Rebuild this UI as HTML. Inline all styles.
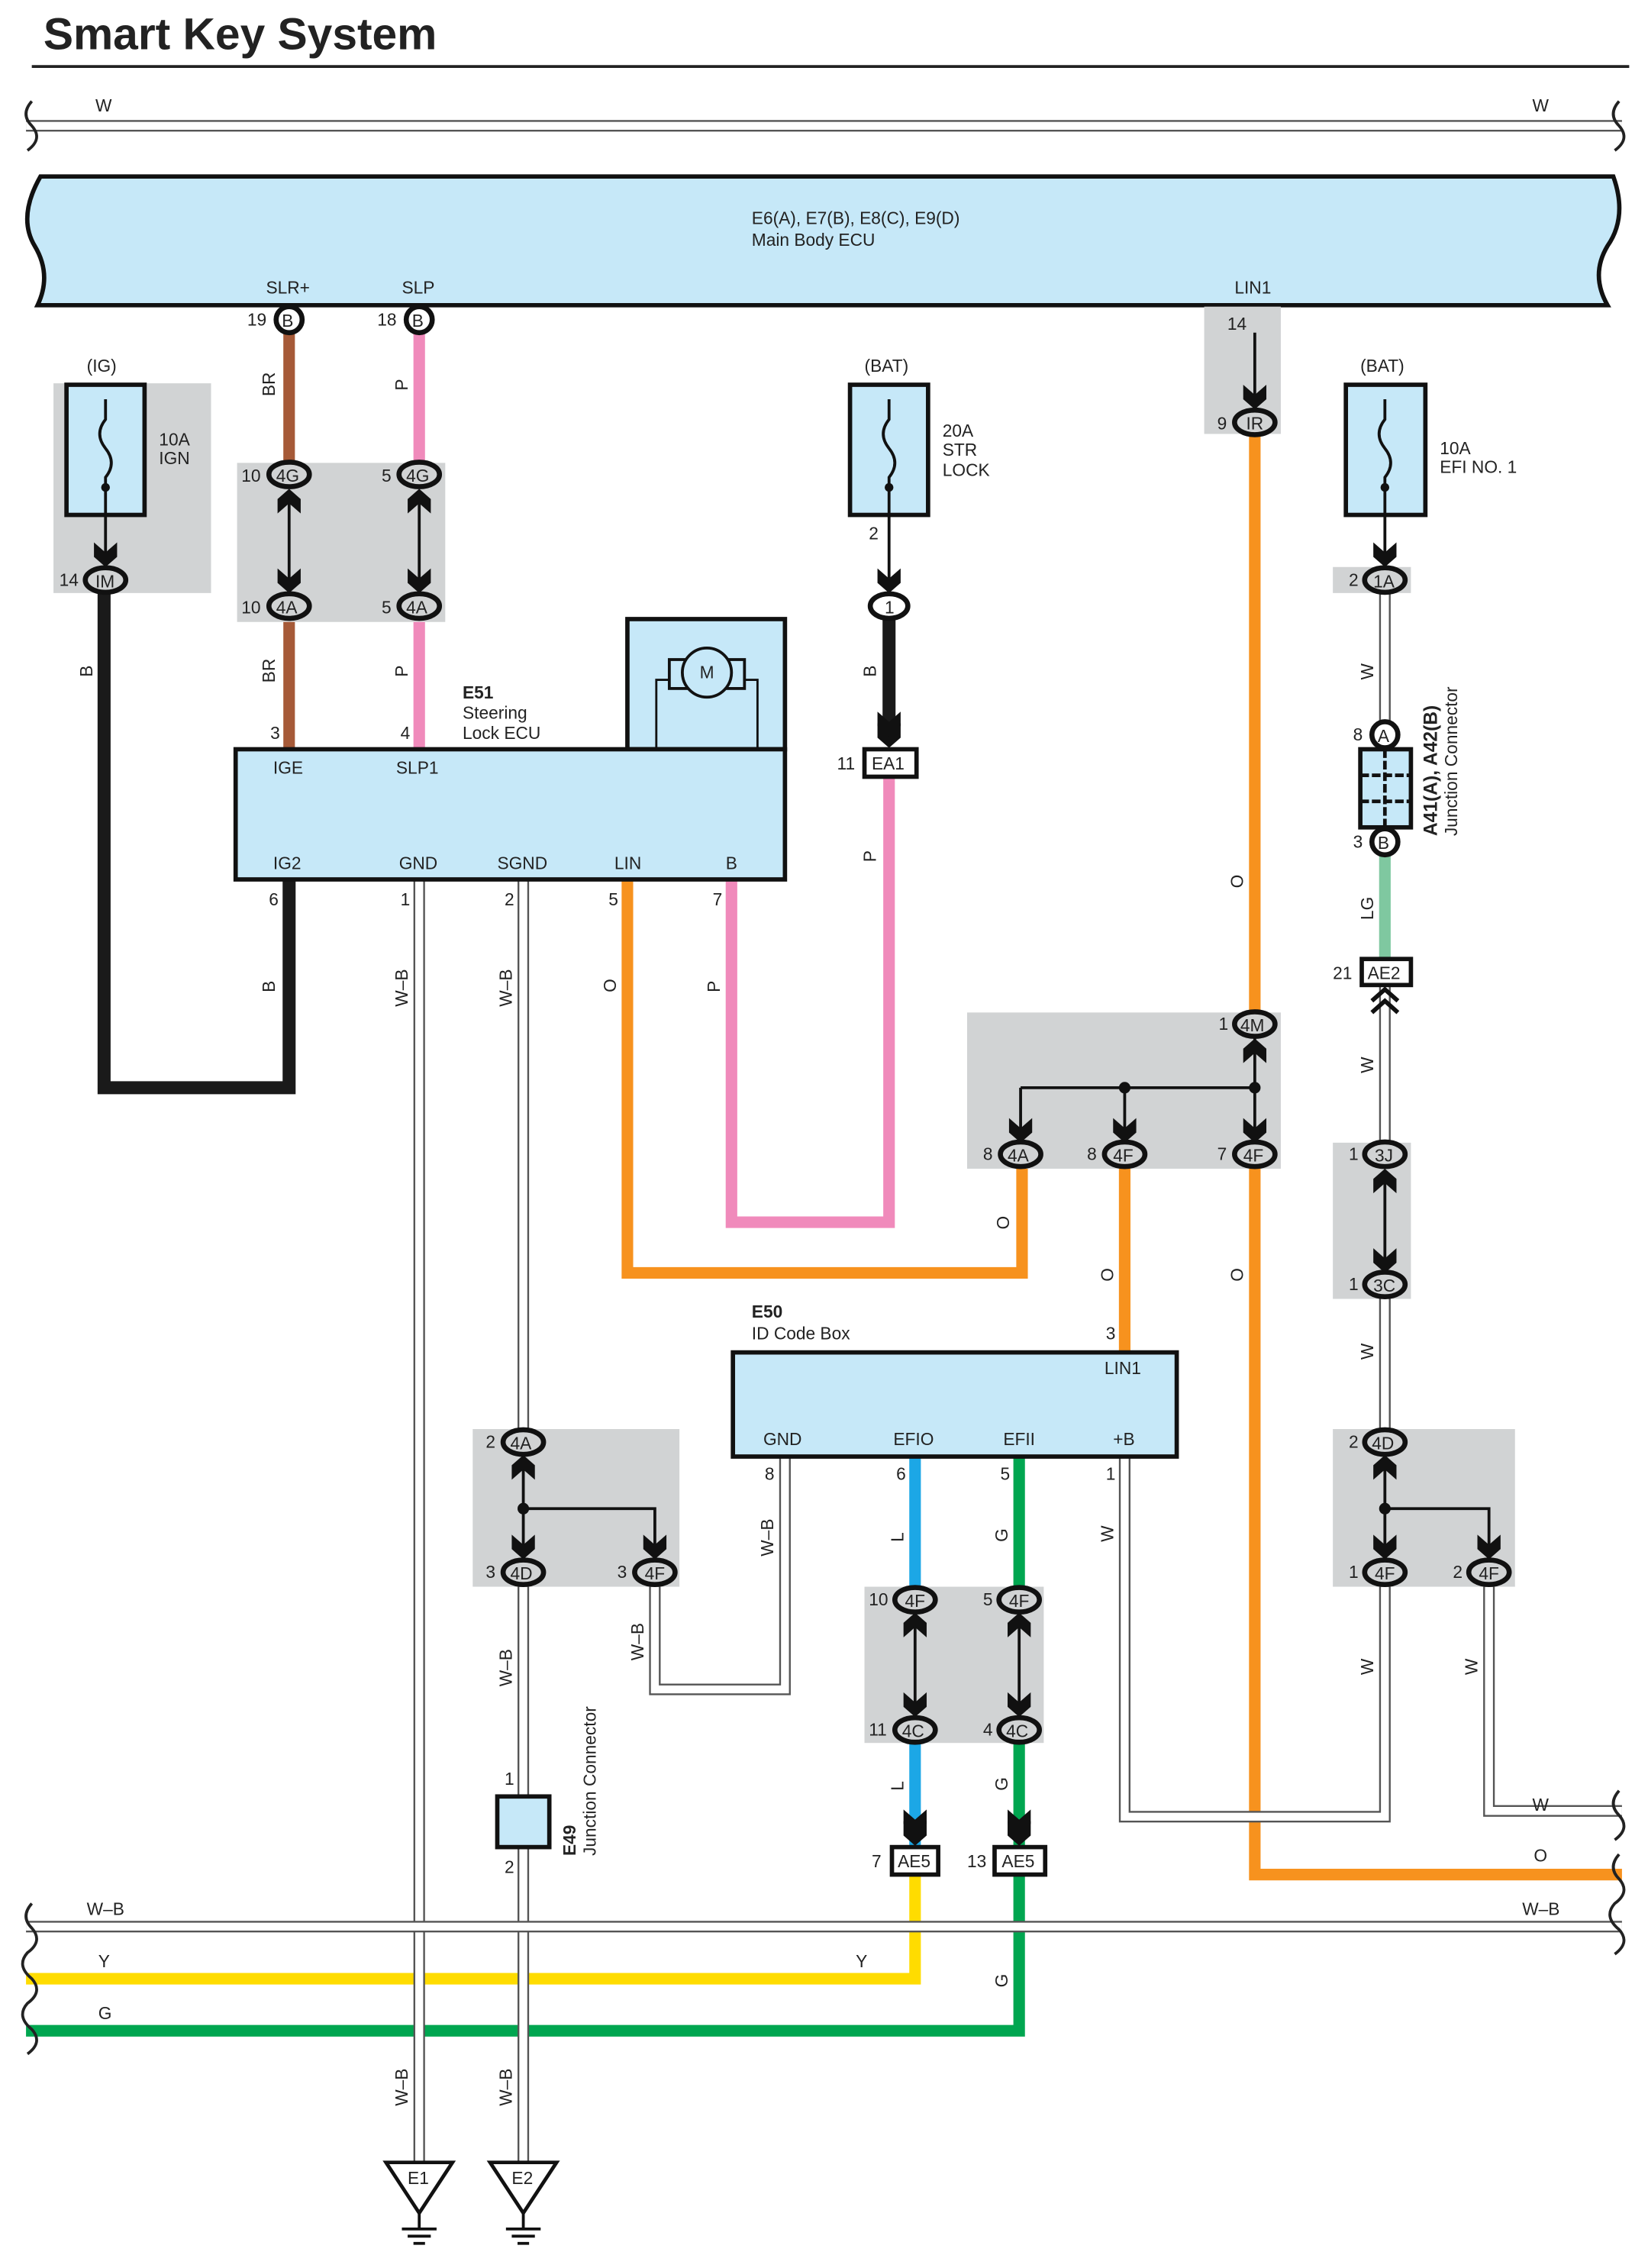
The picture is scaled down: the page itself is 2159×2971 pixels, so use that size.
<!DOCTYPE html>
<html><head><meta charset="utf-8"><style>
html,body{margin:0;padding:0;background:#fff}
svg{display:block}
text{font-family:"Liberation Sans",sans-serif;fill:#222}
.s{font-size:12px}
.wb{fill:none;stroke:#555;stroke-width:8}
.wi{fill:none;stroke:#fff;stroke-width:5.5}
.pill{fill:#fff;stroke:#111;stroke-width:3.5}
.pg{fill:#d1d3d4;stroke:#111;stroke-width:3.5}
.gb{fill:#d1d3d4}
.lb{fill:#c6e8f8;stroke:#111;stroke-width:3}
</style></head><body>
<svg width="2159" height="2971" viewBox="0 0 1140 1568" preserveAspectRatio="none" xmlns="http://www.w3.org/2000/svg">
<defs>
<path id="ad" d="M-8,-17 L0,-10 L8,-17 L8,-7 L0,0 L-8,-7Z" fill="#111"/>
<path id="au" d="M-8,17 L0,10 L8,17 L8,7 L0,0 L-8,7Z" fill="#111"/>
</defs>
<text x="30" y="34" style="font-size:31px;font-weight:bold">Smart Key System</text>
<line x1="22" y1="46" x2="1127" y2="46" stroke="#222" stroke-width="2"/>

<path class="wb" d="M18,87 H1122"/><path class="wi" d="M18,87 H1122"/>
<path d="M22,70 q-8,9 0,17 q8,9 -3,17" fill="none" stroke="#222" stroke-width="2"/>
<path d="M1120,70 q-8,9 0,17 q8,9 -3,17" fill="none" stroke="#222" stroke-width="2"/>
<text class="s" x="66" y="77">W</text><text class="s" x="1060" y="77">W</text>

<path d="M28,122 H1116 Q1126,150 1112,170 Q1100,190 1112,211 H26 Q36,190 24,170 Q12,150 28,122Z" class="lb"/>
<text class="s" x="520" y="155">E6(A), E7(B), E8(C), E9(D)</text>
<text class="s" x="520" y="170">Main Body ECU</text>
<text class="s" x="184" y="203">SLR+</text><text class="s" x="278" y="203">SLP</text><text class="s" x="854" y="203">LIN1</text>

<rect class="gb" x="37" y="265" width="109" height="145"/>
<rect class="gb" x="164" y="320" width="144" height="110"/>
<rect class="gb" x="833" y="212" width="53" height="88"/>
<rect class="gb" x="922" y="392" width="54" height="18"/>
<rect class="gb" x="669" y="700" width="217" height="108"/>
<rect class="gb" x="922" y="790" width="54" height="108"/>
<rect class="gb" x="327" y="988" width="143" height="109"/>
<rect class="gb" x="922" y="988" width="126" height="109"/>
<rect class="gb" x="598" y="1097" width="124" height="108"/>

<path d="M200,228 V320 M200,430 V518" stroke="#a65a38" stroke-width="8" fill="none"/>
<path d="M290,228 V320 M290,430 V518" stroke="#f08abb" stroke-width="8" fill="none"/>
<path d="M72,410 V752 H200 V608" stroke="#1a1a1a" stroke-width="9" fill="none"/>
<path d="M615,428 V510" stroke="#1a1a1a" stroke-width="9" fill="none"/>
<path d="M615,537 V845 H506 V608" stroke="#f08abb" stroke-width="8" fill="none"/>
<path d="M434,608 V880 H707 V808" stroke="#f7921e" stroke-width="8" fill="none"/>
<path d="M868,300 V700" stroke="#f7921e" stroke-width="8" fill="none"/>
<path d="M868,808 V1296 H1122" stroke="#f7921e" stroke-width="8" fill="none"/>
<path d="M778,808 V935" stroke="#f7921e" stroke-width="8" fill="none"/>
<path d="M958,590 V663" stroke="#7fc8a0" stroke-width="8" fill="none"/>
<path d="M633,1007 V1097 M633,1205 V1278" stroke="#1ca7e6" stroke-width="8" fill="none"/>
<path d="M705,1007 V1097 M705,1205 V1278" stroke="#00a650" stroke-width="8" fill="none"/>
<path d="M633,1296 V1368 H18" stroke="#ffdc00" stroke-width="8" fill="none"/>
<path d="M705,1296 V1404 H18" stroke="#00a650" stroke-width="8" fill="none"/>

<g>
<path class="wb" d="M290,608 V1495"/><path class="wi" d="M290,608 V1495"/>
<path class="wb" d="M362,608 V988 M362,1097 V1242 M362,1278 V1495"/><path class="wi" d="M362,608 V988 M362,1097 V1242 M362,1278 V1495"/>
<path class="wb" d="M543,1007 V1168 H453 V1097"/><path class="wi" d="M543,1007 V1168 H453 V1097"/>
<path class="wb" d="M778,1007 V1256 H958 V1097"/><path class="wi" d="M778,1007 V1256 H958 V1097"/>
<path class="wb" d="M1030,1097 V1252 H1122"/><path class="wi" d="M1030,1097 V1252 H1122"/>
<path class="wb" d="M958,410 V500"/><path class="wi" d="M958,410 V500"/>
<path class="wb" d="M958,681 V790 M958,897 V988"/><path class="wi" d="M958,681 V790 M958,897 V988"/>
<path class="wb" d="M18,1332 H1122"/><path class="wi" d="M18,1332 H1122"/>
</g>
<g fill="none" stroke="#222" stroke-width="2">
<path d="M22,1316 q-8,9 0,17 q8,9 -3,17 q-8,9 3,18 q8,9 -3,17 q-8,9 3,18 q8,9 -3,17"/>
<path d="M1120,1238 q-8,9 0,17 q8,9 -3,17 M1120,1282 q-8,9 0,17 q8,9 -3,17 q-8,9 3,18 q8,9 -3,17"/>
</g>

<rect class="lb" x="46" y="266" width="54" height="90"/>
<rect class="lb" x="588" y="266" width="54" height="90"/>
<rect class="lb" x="931" y="266" width="55" height="90"/>
<g fill="none" stroke="#111" stroke-width="2">
<path d="M73,276 v14 q-8,10 0,20 q8,10 0,20 v35 V385"/>
<path d="M615,276 v14 q-8,10 0,20 q8,10 0,20 v35 V400"/>
<path d="M958,276 v14 q-8,10 0,20 q8,10 0,20 v35 V385"/>
<path d="M200,340 V408 M290,340 V408"/>
<path d="M868,230 V280"/>
<path d="M868,718 V788 M706,752 H868 M706,752 V788 M778,752 V788"/>
<path d="M958,812 V878"/>
<path d="M362,1008 V1076 M362,1043 H453 V1076"/>
<path d="M958,1008 V1076 M958,1043 H1030 V1076"/>
<path d="M633,1116 V1186 M705,1116 V1186"/>
</g>
<circle cx="73" cy="337" r="3" fill="#111"/><circle cx="615" cy="337" r="3" fill="#111"/><circle cx="958" cy="337" r="3" fill="#111"/>
<circle cx="778" cy="752" r="4" fill="#111"/><circle cx="868" cy="752" r="4" fill="#111"/>
<circle cx="362" cy="1043" r="4" fill="#111"/><circle cx="958" cy="1043" r="4" fill="#111"/>
<text class="s" x="60" y="257">(IG)</text><text class="s" x="110" y="308">10A</text><text class="s" x="110" y="321">IGN</text>
<text class="s" x="598" y="257">(BAT)</text><text class="s" x="652" y="302">20A</text><text class="s" x="652" y="315">STR</text><text class="s" x="652" y="329">LOCK</text>
<text class="s" x="941" y="257">(BAT)</text><text class="s" x="996" y="314">10A</text><text class="s" x="996" y="327">EFI NO. 1</text>
<text class="s" x="601" y="373">2</text>

<use href="#ad" x="73" y="392"/><use href="#ad" x="615" y="410"/><use href="#ad" x="958" y="392"/>
<use href="#ad" x="868" y="283"/>
<use href="#au" x="200" y="338"/><use href="#ad" x="200" y="410"/>
<use href="#au" x="290" y="338"/><use href="#ad" x="290" y="410"/>
<use href="#au" x="868" y="718"/><use href="#ad" x="706" y="790"/><use href="#ad" x="778" y="790"/><use href="#ad" x="868" y="790"/>
<use href="#au" x="958" y="808"/><use href="#ad" x="958" y="880"/>
<use href="#au" x="362" y="1006"/><use href="#ad" x="362" y="1078"/><use href="#ad" x="453" y="1078"/>
<use href="#au" x="958" y="1006"/><use href="#ad" x="958" y="1078"/><use href="#ad" x="1030" y="1078"/>
<use href="#au" x="633" y="1115"/><use href="#ad" x="633" y="1187"/>
<use href="#au" x="705" y="1115"/><use href="#ad" x="705" y="1187"/>
<use href="#ad" x="615" y="517"/><use href="#ad" x="615" y="509"/>
<use href="#ad" x="633" y="1276"/><use href="#ad" x="633" y="1268"/>
<use href="#ad" x="705" y="1276"/><use href="#ad" x="705" y="1268"/>
<path d="M949,692 L958,684 L967,692 M949,700 L958,692 L967,700" fill="none" stroke="#111" stroke-width="3"/>

<circle class="pill" cx="200" cy="221" r="9"/><text class="s" x="195" y="226">B</text><text class="s" x="171" y="225">19</text>
<circle class="pill" cx="290" cy="221" r="9"/><text class="s" x="285" y="226">B</text><text class="s" x="261" y="225">18</text>
<g class="s">
<ellipse class="pg" cx="200" cy="328" rx="14" ry="8.5"/><text x="191" y="333">4G</text><text x="167" y="333">10</text>
<ellipse class="pg" cx="290" cy="328" rx="14" ry="8.5"/><text x="281" y="333">4G</text><text x="264" y="333">5</text>
<ellipse class="pg" cx="200" cy="419" rx="14" ry="8.5"/><text x="191" y="424">4A</text><text x="167" y="424">10</text>
<ellipse class="pg" cx="290" cy="419" rx="14" ry="8.5"/><text x="281" y="424">4A</text><text x="264" y="424">5</text>
<ellipse class="pg" cx="73" cy="401" rx="14" ry="8.5"/><text x="66" y="406">IM</text><text x="41" y="405">14</text>
<ellipse class="pill" cx="615" cy="419" rx="13" ry="8.5"/><text x="612" y="424">1</text>
<ellipse class="pg" cx="868" cy="292" rx="14" ry="8.5"/><text x="862" y="297">IR</text><text x="842" y="297">9</text><text x="849" y="228">14</text>
<ellipse class="pg" cx="958" cy="401" rx="14" ry="8.5"/><text x="950" y="406">1A</text><text x="933" y="405">2</text>
<ellipse class="pg" cx="868" cy="708" rx="14" ry="8.5"/><text x="858" y="713">4M</text><text x="843" y="712">1</text>
<ellipse class="pg" cx="706" cy="798" rx="14" ry="8.5"/><text x="697" y="803">4A</text><text x="680" y="802">8</text>
<ellipse class="pg" cx="778" cy="798" rx="14" ry="8.5"/><text x="770" y="803">4F</text><text x="752" y="802">8</text>
<ellipse class="pg" cx="868" cy="798" rx="14" ry="8.5"/><text x="860" y="803">4F</text><text x="842" y="802">7</text>
<ellipse class="pg" cx="958" cy="798" rx="14" ry="8.5"/><text x="951" y="803">3J</text><text x="933" y="802">1</text>
<ellipse class="pg" cx="958" cy="888" rx="14" ry="8.5"/><text x="950" y="893">3C</text><text x="933" y="892">1</text>
<ellipse class="pg" cx="362" cy="997" rx="14" ry="8.5"/><text x="353" y="1002">4A</text><text x="336" y="1001">2</text>
<ellipse class="pg" cx="362" cy="1087" rx="14" ry="8.5"/><text x="353" y="1092">4D</text><text x="336" y="1091">3</text>
<ellipse class="pg" cx="453" cy="1087" rx="14" ry="8.5"/><text x="446" y="1092">4F</text><text x="427" y="1091">3</text>
<ellipse class="pg" cx="958" cy="997" rx="14" ry="8.5"/><text x="949" y="1002">4D</text><text x="933" y="1001">2</text>
<ellipse class="pg" cx="958" cy="1087" rx="14" ry="8.5"/><text x="951" y="1092">4F</text><text x="933" y="1091">1</text>
<ellipse class="pg" cx="1030" cy="1087" rx="14" ry="8.5"/><text x="1023" y="1092">4F</text><text x="1005" y="1091">2</text>
<ellipse class="pg" cx="633" cy="1106" rx="14" ry="8.5"/><text x="626" y="1111">4F</text><text x="601" y="1110">10</text>
<ellipse class="pg" cx="705" cy="1106" rx="14" ry="8.5"/><text x="698" y="1111">4F</text><text x="680" y="1110">5</text>
<ellipse class="pg" cx="633" cy="1196" rx="14" ry="8.5"/><text x="624" y="1201">4C</text><text x="601" y="1200">11</text>
<ellipse class="pg" cx="705" cy="1196" rx="14" ry="8.5"/><text x="696" y="1201">4C</text><text x="680" y="1200">4</text>
</g>
<rect x="598" y="518" width="36" height="19" fill="#fff" stroke="#111" stroke-width="3"/><text class="s" x="603" y="532">EA1</text><text class="s" x="579" y="532">11</text>
<rect x="617" y="1277" width="32" height="19" fill="#fff" stroke="#111" stroke-width="3"/><text class="s" x="621" y="1291">AE5</text><text class="s" x="603" y="1291">7</text>
<rect x="688" y="1277" width="35" height="19" fill="#fff" stroke="#111" stroke-width="3"/><text class="s" x="693" y="1291">AE5</text><text class="s" x="669" y="1291">13</text>
<rect x="942" y="663" width="34" height="18" fill="#fff" stroke="#111" stroke-width="3"/><text class="s" x="946" y="677">AE2</text><text class="s" x="922" y="677">21</text>

<rect class="lb" x="941" y="518" width="35" height="54"/>
<path d="M958,518 V572 M941,536 H976 M941,554 H976" stroke="#111" stroke-width="2.5" stroke-dasharray="6,2"/>
<circle class="pill" cx="958" cy="508" r="9"/><text class="s" x="953" y="513">A</text><text class="s" x="936" y="512">8</text>
<circle class="pill" cx="958" cy="582" r="9"/><text class="s" x="953" y="587">B</text><text class="s" x="936" y="586">3</text>
<text transform="translate(994,578) rotate(-90)" style="font-size:13px;font-weight:bold">A41(A), A42(B)</text>
<text transform="translate(1008,578) rotate(-90)" class="s">Junction Connector</text>

<rect class="lb" x="434" y="428" width="109" height="90"/>
<path d="M454,518 V470 H467 M511,470 H524 V518" fill="none" stroke="#111" stroke-width="1.5"/>
<rect x="463" y="456" width="52" height="20" fill="#c6e8f8" stroke="#111" stroke-width="2"/>
<circle cx="489" cy="465" r="17" fill="#c6e8f8" stroke="#111" stroke-width="2"/><text class="s" x="484" y="469">M</text>
<rect class="lb" x="163" y="518" width="380" height="90"/>
<text x="320" y="483" style="font-size:12px;font-weight:bold">E51</text>
<text class="s" x="320" y="497">Steering</text><text class="s" x="320" y="511">Lock ECU</text>
<g class="s">
<text x="187" y="511">3</text><text x="277" y="511">4</text>
<text x="189" y="535">IGE</text><text x="274" y="535">SLP1</text>
<text x="189" y="601">IG2</text><text x="276" y="601">GND</text><text x="344" y="601">SGND</text><text x="425" y="601">LIN</text><text x="502" y="601">B</text>
<text x="186" y="626">6</text><text x="277" y="626">1</text><text x="349" y="626">2</text><text x="421" y="626">5</text><text x="493" y="626">7</text>
</g>

<rect class="lb" x="507" y="935" width="307" height="72"/>
<text x="520" y="911" style="font-size:12px;font-weight:bold">E50</text>
<text class="s" x="520" y="926">ID Code Box</text>
<g class="s">
<text x="765" y="926">3</text><text x="764" y="950">LIN1</text>
<text x="528" y="999">GND</text><text x="618" y="999">EFIO</text><text x="694" y="999">EFII</text><text x="770" y="999">+B</text>
<text x="529" y="1023">8</text><text x="620" y="1023">6</text><text x="692" y="1023">5</text><text x="765" y="1023">1</text>
</g>

<rect class="lb" x="344" y="1242" width="36" height="35"/>
<text class="s" x="349" y="1234">1</text><text class="s" x="349" y="1295">2</text>
<text transform="translate(398,1283) rotate(-90)" style="font-size:12px;font-weight:bold">E49</text>
<text transform="translate(412,1283) rotate(-90)" class="s">Junction Connector</text>

<g fill="#fff" stroke="#111" stroke-width="2.5">
<path d="M267,1495 H313 L290,1530Z"/><path d="M339,1495 H385 L362,1530Z"/>
</g>
<g stroke="#111" stroke-width="2">
<path d="M290,1530 V1540 M278,1541 H302 M282,1546 H298 M286,1551 H294"/>
<path d="M362,1530 V1540 M350,1541 H374 M354,1546 H370 M358,1551 H366"/>
</g>
<text class="s" x="282" y="1510">E1</text><text class="s" x="354" y="1510">E2</text>

<g class="s">
<text transform="translate(190,274) rotate(-90)">BR</text>
<text transform="translate(282,270) rotate(-90)">P</text>
<text transform="translate(190,472) rotate(-90)">BR</text>
<text transform="translate(282,468) rotate(-90)">P</text>
<text transform="translate(64,468) rotate(-90)">B</text>
<text transform="translate(190,686) rotate(-90)">B</text>
<text transform="translate(282,696) rotate(-90)">W–B</text>
<text transform="translate(354,696) rotate(-90)">W–B</text>
<text transform="translate(426,686) rotate(-90)">O</text>
<text transform="translate(498,686) rotate(-90)">P</text>
<text transform="translate(606,468) rotate(-90)">B</text>
<text transform="translate(606,596) rotate(-90)">P</text>
<text transform="translate(860,614) rotate(-90)">O</text>
<text transform="translate(950,470) rotate(-90)">W</text>
<text transform="translate(950,636) rotate(-90)">LG</text>
<text transform="translate(950,742) rotate(-90)">W</text>
<text transform="translate(950,940) rotate(-90)">W</text>
<text transform="translate(698,850) rotate(-90)">O</text>
<text transform="translate(770,886) rotate(-90)">O</text>
<text transform="translate(860,886) rotate(-90)">O</text>
<text transform="translate(535,1076) rotate(-90)">W–B</text>
<text transform="translate(625,1066) rotate(-90)">L</text>
<text transform="translate(697,1066) rotate(-90)">G</text>
<text transform="translate(770,1066) rotate(-90)">W</text>
<text transform="translate(445,1148) rotate(-90)">W–B</text>
<text transform="translate(354,1166) rotate(-90)">W–B</text>
<text transform="translate(625,1238) rotate(-90)">L</text>
<text transform="translate(697,1238) rotate(-90)">G</text>
<text transform="translate(950,1158) rotate(-90)">W</text>
<text transform="translate(1022,1158) rotate(-90)">W</text>
<text transform="translate(697,1374) rotate(-90)">G</text>
<text transform="translate(282,1456) rotate(-90)">W–B</text>
<text transform="translate(354,1456) rotate(-90)">W–B</text>
<text x="60" y="1324">W–B</text><text x="1053" y="1324">W–B</text>
<text x="68" y="1360">Y</text><text x="592" y="1360">Y</text>
<text x="68" y="1396">G</text>
<text x="1060" y="1252">W</text><text x="1061" y="1287">O</text>
</g>
</svg>
</body></html>
